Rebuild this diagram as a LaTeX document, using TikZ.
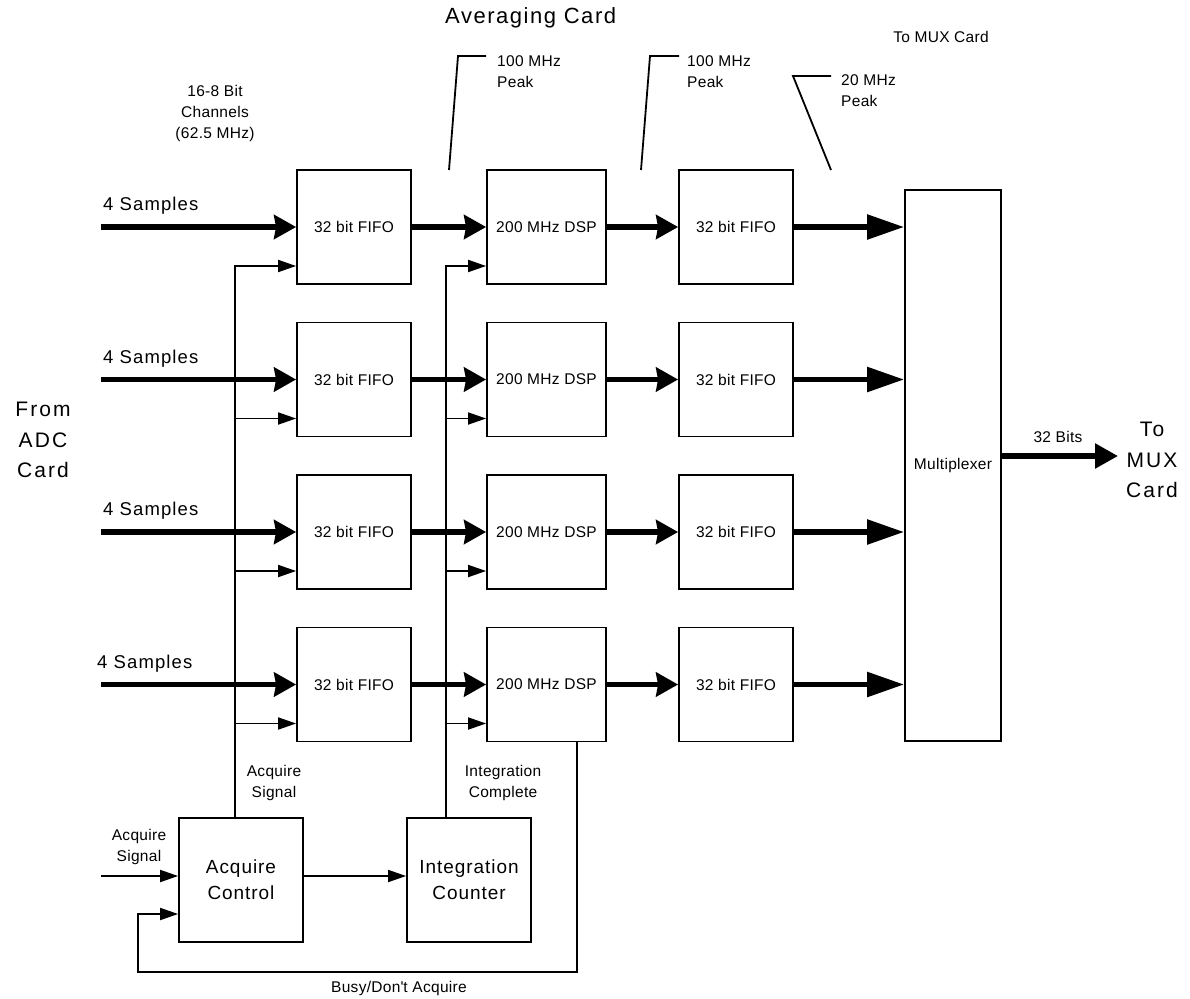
\documentclass[tikz,border=0pt]{standalone}
\usepackage{fontspec}
\setmainfont{Liberation Sans}
\newfontfamily\plainf{Liberation Sans}[Ligatures=TeXOff]
\usetikzlibrary{arrows.meta,calc}
\begin{document}
\begin{tikzpicture}[x=1pt,y=-1pt,
  smallfont/.style={font=\fontsize{15.5}{21}\selectfont\addfontfeature{LetterSpace=2}},
  midfont/.style={font=\fontsize{18.5}{22}\selectfont\addfontfeature{LetterSpace=6}},
  bigfont/.style={font=\fontsize{21}{30.5}\selectfont\addfontfeature{LetterSpace=10}},
  titlefont/.style={font=\fontsize{22}{26}\selectfont\addfontfeature{LetterSpace=7}},
  boxfont/.style={font=\fontsize{19}{26}\selectfont\addfontfeature{LetterSpace=5}},
  box/.style={draw,line width=1.8pt,minimum height=114pt,inner sep=0pt,smallfont},
  thickarrow/.style={line width=5.5pt,-{Stealth[length=22pt,width=24pt,inset=2pt]}},
  bigarrow/.style={line width=5.5pt,-{Triangle[length=37pt,width=24pt]}},
  outarrow/.style={line width=5.5pt,-{Triangle[length=23pt,width=24pt]}},
  smallarrow/.style={line width=1.8pt,-{Triangle[length=18pt,width=12pt]}},
  thinline/.style={line width=1.8pt},
  lbl/.style={smallfont,align=center,inner sep=0pt},
]
\useasboundingbox (0,0) rectangle (1190,998);

% multiplexer
\node[box,minimum width=96pt,minimum height=551pt] (mux) at (953,465.5) {Multiplexer};

% bottom control boxes
\node[draw,line width=1.8pt,minimum width=124pt,minimum height=124pt,inner sep=0pt,boxfont,align=center] (ac) at (241,880) {Acquire\\Control};
\node[draw,line width=1.8pt,minimum width=124pt,minimum height=124pt,inner sep=0pt,boxfont,align=center] (ic) at (469,880) {Integration\\Counter};

\coordinate (b1) at (235,818);
\coordinate (b2) at (446,818);

\foreach \i/\yc/\lx in {1/227/103,2/379.5/103,3/532/103,4/684.5/97} {
  \node[box,minimum width=114pt] (f\i) at (354,\yc) {32 bit FIFO};
  \node[box,minimum width=119pt] (d\i) at (546.5,\yc) {200 MHz DSP};
  \node[box,minimum width=114pt] (g\i) at (736,\yc) {32 bit FIFO};
  \coordinate (in\i) at (101,\yc);
  \draw[thickarrow] (in\i) -- (f\i.west);
  \node[midfont,anchor=west,inner sep=0pt] (sl\i) at (\lx,\yc-21) {4 Samples};
  \draw[thickarrow] (f\i.east) -- (d\i.west);
  \draw[thickarrow] (d\i.east) -- (g\i.west);
  \draw[bigarrow] (g\i.east) -- (g\i.east -| mux.west);
  \coordinate (s\i) at ($(f\i.west)+(0,39)$);
  \coordinate (t\i) at ($(d\i.west)+(0,39)$);
}

% buses
\draw[smallarrow] (b1) |- (s1);
\draw[smallarrow] (b2) |- (t1);
\foreach \i in {2,3,4} {
  \draw[smallarrow] (s\i -| b1) -- (s\i);
  \draw[smallarrow] (t\i -| b2) -- (t\i);
}

% control signals
\coordinate (acin) at (101,876);
\draw[smallarrow] (acin) -- (acin -| ac.west);
\draw[smallarrow] (ac.east |- acin) -- (ic.west |- acin);
\coordinate (bz) at ($(d4.south)+(30.5,0)$);
\coordinate (fb) at (138,914);
\draw[smallarrow] (bz) -- (bz |- 0,972) -| (fb) -- (fb -| ac.west);

% output
\coordinate (outend) at (1118,456);
\draw[outarrow] (mux.east |- outend) -- (outend);

% leader lines
\coordinate (p1a) at (449,170); \coordinate (p1b) at (458,56); \coordinate (p1c) at (486,56);
\draw[thinline] (p1a) -- (p1b) -- (p1c);
\coordinate (p2a) at (641,170); \coordinate (p2b) at (650,56); \coordinate (p2c) at (679,56);
\draw[thinline] (p2a) -- (p2b) -- (p2c);
\coordinate (p3a) at (831,170); \coordinate (p3b) at (793,76); \coordinate (p3c) at (831,76);
\draw[thinline] (p3a) -- (p3b) -- (p3c);

% labels
\node[lbl] (chan) at (215,113) {16-8 Bit\\Channels\\(62.5 MHz)};
\node[titlefont,anchor=west,inner sep=0pt] (avg) at (445,18) {Averaging Card};
\node[lbl,anchor=west,align=left] (pk1) at (497,72) {100 MHz\\Peak};
\node[lbl,anchor=west,align=left] (pk2) at (687,72) {100 MHz\\Peak};
\node[lbl,anchor=west,align=left] (pk3) at (841,91) {20 MHz\\Peak};
\node[lbl] (tomuxtop) at (941,37) {To MUX Card};
\node[lbl] (bits) at (1058,437) {32 Bits};
\node[bigfont,align=center,inner sep=0pt] (tomux) at (1152,460) {To\\MUX\\Card};
\node[bigfont,align=center,inner sep=0pt] (fromadc) at (43,440) {From\\ADC\\Card};
\node[lbl] (acqs) at (274,783) {Acquire\\Signal};
\node[lbl] (intc) at (503,783) {Integration\\Complete};
\node[lbl] (acqin) at (139,847) {Acquire\\Signal};
\node[lbl] (busy) at (399,988) {Busy/Don{\plainf\addfontfeature{LetterSpace=2}'}t Acquire};
\end{tikzpicture}
\end{document}
